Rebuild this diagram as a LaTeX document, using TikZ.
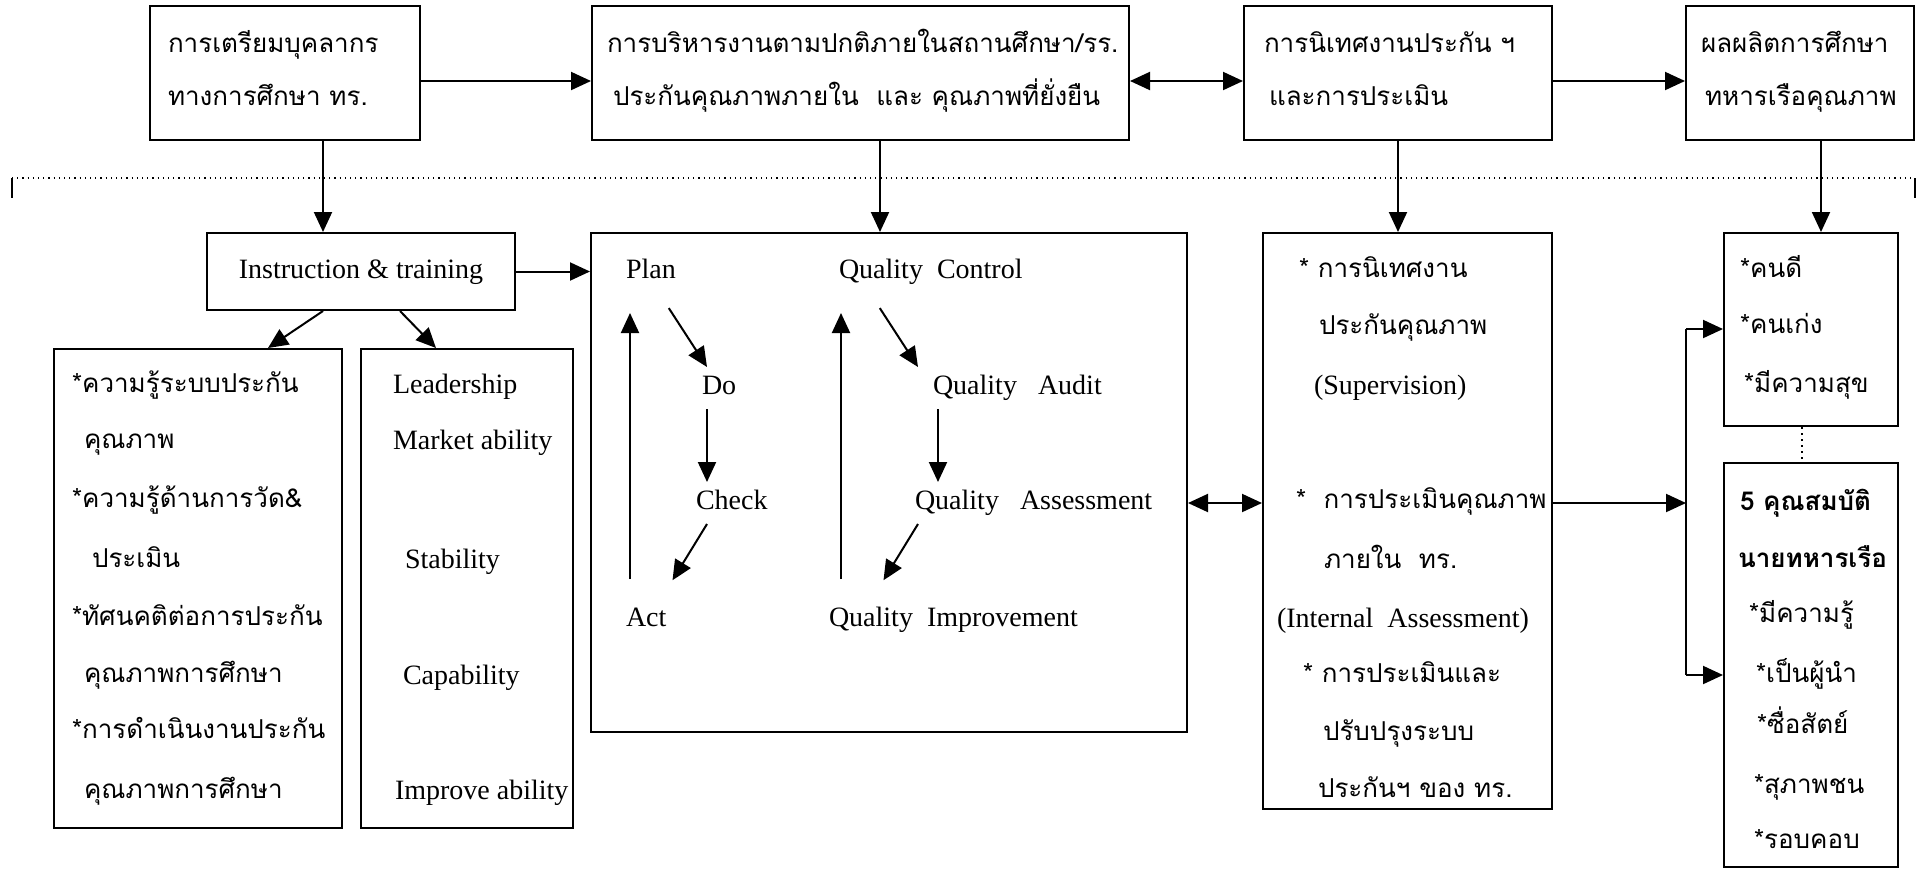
\documentclass[tikz,border=0pt]{standalone}
\usepackage{fontspec}
\setmainfont{Liberation Serif}
\newfontfamily\thai[Script=Thai]{Loma}
\usetikzlibrary{arrows.meta}
\begin{document}
\begin{tikzpicture}[x=0.5pt, y=-0.5pt, line width=1pt,
  box/.style 2 args={draw, inner sep=0pt, minimum width=#1, minimum height=#2},
  th/.style={anchor=west, inner sep=0pt, font=\thai\fontsize{13}{15}\selectfont, text height=.55em, text depth=0pt},
  en/.style={anchor=west, inner sep=0pt, font=\fontsize{14}{16}\selectfont, text height=.66em, text depth=0pt},
  pd/.style={en, minimum height=20pt},
  arr/.style={-{Triangle[length=10pt,width=9pt]}},
  dbl/.style={{Triangle[length=10pt,width=9pt]}-{Triangle[length=10pt,width=9pt]}}]
\useasboundingbox (0,0) rectangle (1917,885);
\node [box={135pt}{67pt}] (b1) at (285,73) {};
\node [box={268.5pt}{67pt}] (b2) at (860.5,73) {};
\node [box={154pt}{67pt}] (b3) at (1398,73) {};
\node [box={114pt}{67pt}] (b4) at (1800,73) {};
\node [th] (t1a) at (167,47) {การเตรียมบุคลากร};
\node [th] (t1b) at (167,100) {ทางการศึกษา ทร.};
\node [th] (t2a) at (606,47) {การบริหารงานตามปกติภายในสถานศึกษา/รร.};
\node [th] (t2b) at (612,100) {ประกันคุณภาพภายใน\ \ และ คุณภาพที่ยั่งยืน};
\node [th] (t3a) at (1263,47) {การนิเทศงานประกัน ฯ};
\node [th] (t3b) at (1268,100) {และการประเมิน};
\node [th] (t4a) at (1700,47) {ผลผลิตการศึกษา};
\node [th] (t4b) at (1704,100) {ทหารเรือคุณภาพ};
\draw [arr] ([yshift=-4pt]b1.east) -- ([yshift=-4pt]b2.west);
\draw [dbl] ([yshift=-4pt]b2.east) -- ([yshift=-4pt]b3.west);
\draw [arr] ([yshift=-4pt]b3.east) -- ([yshift=-4pt]b4.west);
\coordinate (sepl) at (12,178);
\coordinate (sepr) at (1915,178);
\draw [dotted, line width=.6pt] (sepl) -- (sepr);
\draw (sepl) -- ++(0,20) (sepr) -- ++(0,20);
\node [box={154pt}{38.5pt}, en, anchor=center, inner sep=0pt] (instr) at (361,271.5) {Instruction \& training};
\node [box={144pt}{239.5pt}] (know) at (198,588.5) {};
\node [box={106pt}{239.5pt}] (skill) at (467,588.5) {};
\node [box={298pt}{249.5pt}] (pdca) at (889,482.5) {};
\node [box={144.5pt}{288pt}] (sup) at (1407.5,521) {};
\node [box={87pt}{96.5pt}] (good) at (1811,329.5) {};
\node [box={87pt}{202pt}] (five) at (1811,665) {};
\draw [arr] (323,0 |- b1.south) -- (323,0 |- instr.north);
\draw [arr] (880,0 |- b2.south) -- (880,0 |- pdca.north);
\draw [arr] (1398,0 |- b3.south) -- (1398,0 |- sup.north);
\draw [arr] (1821,0 |- b4.south) -- (1821,0 |- good.north);
\draw [arr] (instr) -- (instr -| pdca.west);
\draw [arr] (323,0 |- instr.south) -- (268,0 |- know.north);
\draw [arr] (400,0 |- instr.south) -- (436,0 |- skill.north);
\foreach \y/\x/\t [count=\i] in {387/71/{*ความรู้ระบบประกัน}, 443/83/{คุณภาพ},
  502/71/{*ความรู้ด้านการวัด\&}, 562/91/{ประเมิน}, 620/71/{*ทัศนคติต่อการประกัน},
  677/83/{คุณภาพการศึกษา}, 733/71/{*การดำเนินงานประกัน}, 793/83/{คุณภาพการศึกษา}}
  \node [th] (k\i) at (\x,\y) {\t};
\foreach \y/\x/\t [count=\i] in {387/392/Leadership, 443/392/Market ability,
  562/404/Stability, 678/402/Capability, 793/394/Improve ability}
  \node [en] (s\i) at (\x,\y) {\t};
\node [pd] (plan) at (625,272) {Plan};
\node [pd] (do) at (701,388) {Do};
\node [pd] (check) at (695,503) {Check};
\node [pd] (act) at (625,620) {Act};
\node [pd] (qc) at (838,272) {Quality\ \ Control};
\node [pd] (qa) at (932,388) {Quality\ \ \ Audit};
\node [pd] (qas) at (914,503) {Quality\ \ \ Assessment};
\node [pd] (qi) at (828,620) {Quality\ \ Improvement};
\draw [arr, shorten <=9pt] (659,0 |- plan.south) -- (707,0 |- do.north);
\draw [arr] (707,0 |- do.south) -- (707,0 |- check.north);
\draw [arr, shorten >=11pt] (707,0 |- check.south) -- (661,0 |- act.north);
\draw [arr, shorten <=10pt, shorten >=10pt] (630,0 |- act.north) -- (630,0 |- plan.south);
\draw [arr, shorten <=9pt] (870,0 |- qc.south) -- (918,0 |- qa.north);
\draw [arr] (938,0 |- qa.south) -- (938,0 |- qas.north);
\draw [arr, shorten >=11pt] (918,0 |- qas.south) -- (872,0 |- qi.north);
\draw [arr, shorten <=10pt, shorten >=10pt] (841,0 |- qi.north) -- (841,0 |- qc.south);
\node [th] (u1) at (1298,272) {* การนิเทศงาน};
\node [th] (u2) at (1318,329) {ประกันคุณภาพ};
\node [en] (u3) at (1313,388) {(Supervision)};
\node [th] (u4) at (1295,503) {*\ \ การประเมินคุณภาพ};
\node [th] (u5) at (1323,563) {ภายใน\ \ ทร.};
\node [en] (u6) at (1276,621) {(Internal\ \ Assessment)};
\node [th] (u7) at (1302,677) {* การประเมินและ};
\node [th] (u8) at (1322,735) {ปรับปรุงระบบ};
\node [th] (u9) at (1317,792) {ประกันฯ ของ ทร.};
\draw [dbl] (pdca.east |- 0,503) -- (sup.west |- 0,503);
\coordinate (fork) at (1686,503);
\coordinate (ftop) at (1686,329);
\coordinate (fbot) at (1686,675);
\draw [arr] (sup.east |- fork) -- (fork);
\draw (ftop) -- (fbot);
\draw [arr] (ftop) -- (ftop -| good.west);
\draw [arr] (fbot) -- (fbot -| five.west);
\draw [dotted] (1802,0 |- good.south) -- (1802,0 |- five.north);
\foreach \y/\x/\t [count=\i] in {272/1739/{*คนดี}, 328/1739/{*คนเก่ง}, 387/1743/{*มีความสุข}}
  \node [th] (g\i) at (\x,\y) {\t};
\node [th, font=\thai\bfseries\fontsize{13}{15}\selectfont] (f1) at (1739,505) {5 คุณสมบัติ};
\node [th, font=\thai\bfseries\fontsize{13}{15}\selectfont] (f2) at (1737,562) {นายทหารเรือ};
\foreach \y/\x/\t [count=\i from 3] in {617/1748/{*มีความรู้}, 677/1755/{*เป็นผู้นำ},
  728/1756/{*ซื่อสัตย์}, 788/1753/{*สุภาพชน}, 843/1753/{*รอบคอบ}}
  \node [th] (f\i) at (\x,\y) {\t};
\end{tikzpicture}
\end{document}
